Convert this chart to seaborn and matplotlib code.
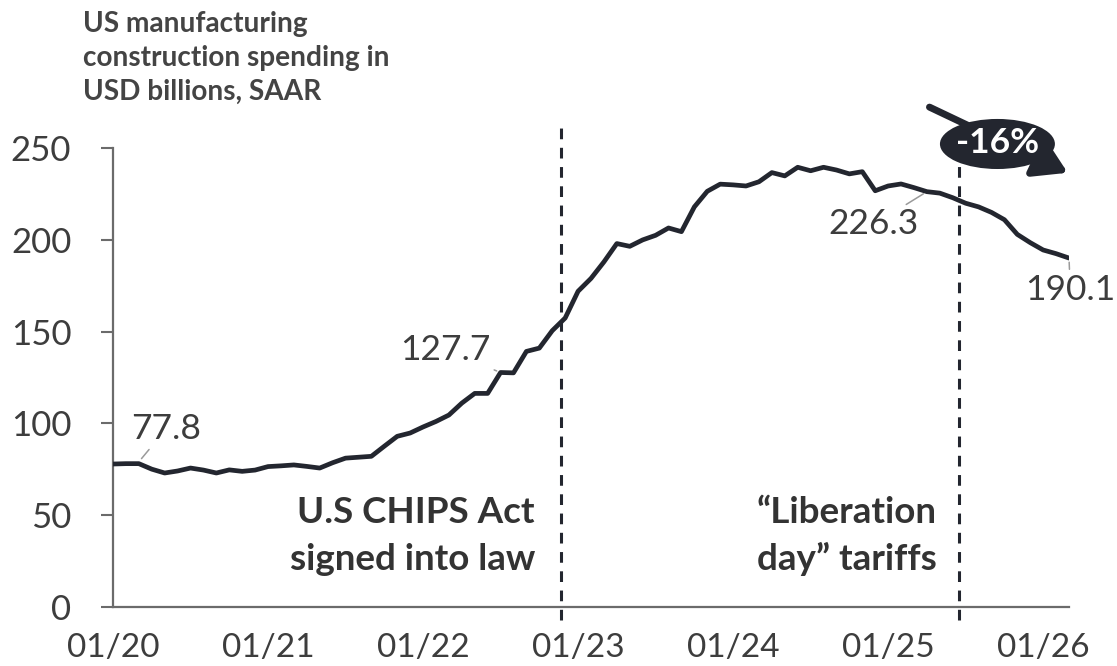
import matplotlib
matplotlib.use("Agg")
import matplotlib.pyplot as plt
from matplotlib.patches import Ellipse
import numpy as np
import pandas as pd
import seaborn as sns

# ---------------- data ----------------
# monthly index: 0 = Jan 2020 ... 74 = Mar 2026
spending = [
    77.8, 78.0, 78.0, 75.0, 72.9, 74.0, 75.6, 74.5, 72.9, 74.6,
    73.8, 74.5, 76.4, 76.8, 77.3, 76.5, 75.6, 78.5, 81.0, 81.5,
    82.0, 87.5, 92.9, 94.7, 98.0, 101.0, 104.5, 111.0, 116.3, 116.3,
    127.7, 127.5, 139.2, 141.0, 150.5, 157.4, 172.0, 179.0, 188.0, 198.0,
    196.5, 200.0, 202.5, 206.5, 204.5, 218.0, 226.5, 230.4, 230.0, 229.4,
    231.7, 236.7, 234.9, 239.6, 237.7, 239.6, 238.1, 236.0, 237.2, 226.8,
    229.4, 230.5, 228.5, 226.3, 225.5, 223.0, 220.0, 218.0, 215.0, 211.0,
    203.0, 198.5, 194.5, 192.5, 190.1,
]
month_idx = list(range(len(spending)))

tick_labels = ["01/20", "01/21", "01/22", "01/23", "01/24", "01/25", "01/26"]
tick_months = [0, 12, 24, 36, 48, 60, 72]
y_ticks = [0, 50, 100, 150, 200, 250]

event_lines = [["U.S CHIPS Act", "signed into law"],
               ["\u201cLiberation", "day\u201d tariffs"]]
event_x = [34.67, 65.48]

labelled_idx = [0, 30, 63, 74]
change_text = "-16%"
title_lines = ["US manufacturing", "construction spending in", "USD billions, SAAR"]

# ---------------- style ----------------
sns.set_theme(style="white")
plt.rcParams["font.family"] = ["Lato", "DejaVu Sans"]

LINE = "#23262f"
TXT = "#3d3d3d"
BOLD = "#333333"
SPINE = "#6b6b6b"

W, H = 1117, 666
fig = plt.figure(figsize=(W / 100, H / 100), dpi=100)
ax_left, ax_right = 113, 1069
ax_bottom, ax_top = 606.7, 606.7 - 270 * 1.834
ax = fig.add_axes([ax_left / W, (H - ax_bottom) / H,
                   (ax_right - ax_left) / W, (ax_bottom - ax_top) / H])

df = pd.DataFrame({"month": month_idx, "value": spending})
sns.lineplot(data=df, x="month", y="value", ax=ax, color=LINE, linewidth=3.4, zorder=4)

ax.set_xlim(0, len(spending) - 1)
ax.set_ylim(0, 270)
for s in ["top", "right"]:
    ax.spines[s].set_visible(False)
ax.spines["left"].set_bounds(0, 250)
for s in ["left", "bottom"]:
    ax.spines[s].set_color(SPINE)
    ax.spines[s].set_linewidth(1.6)

ax.set_yticks(y_ticks)
ax.set_xticks(tick_months)
ax.set_xticklabels(tick_labels)
ax.tick_params(axis="y", length=9, width=1.5, color=SPINE, pad=21,
               labelsize=25, labelcolor=TXT, direction="out", left=True)
ax.tick_params(axis="x", length=0, pad=19, labelsize=24, labelcolor=TXT)
ax.set_xlabel("")
ax.set_ylabel("")
ax.grid(False)

# event dashed lines
for xv in event_x:
    ax.plot([xv, xv], [-7, 261], color=LINE, lw=2.2, ls=(0, (3.5, 2.8)),
            clip_on=False, zorder=3)

# event texts (right aligned just left of each dashed line)
text_right = [32.66, 63.78]
for xr, lines in zip(text_right, event_lines):
    ax.text(xr, 45.6, lines[0], ha="right", va="baseline",
            fontsize=26.5, fontweight="bold", color=BOLD)
    ax.text(xr, 20.0, lines[1], ha="right", va="baseline",
            fontsize=26.5, fontweight="bold", color=BOLD)

# value labels
lead = dict(arrowstyle="-", color="#9a9a9a", lw=1.1, shrinkA=1, shrinkB=3)
i0, i1, i2, i3 = labelled_idx
vfs = 25.5
ax.annotate(f"{spending[i0]:.1f}", xy=(2.0, spending[2] + 1), xytext=(4.1, 96.8),
            ha="center", va="center", fontsize=vfs, color=TXT, arrowprops=lead,
            annotation_clip=False)
ax.annotate(f"{spending[i1]:.1f}", xy=(i1, spending[i1]), xytext=(25.7, 139.9),
            ha="center", va="center", fontsize=vfs, color=TXT, arrowprops=lead,
            annotation_clip=False)
ax.annotate(f"{spending[i2]:.1f}", xy=(i2, spending[i2]), xytext=(58.9, 208.4),
            ha="center", va="center", fontsize=vfs, color=TXT, arrowprops=lead,
            annotation_clip=False)
ax.annotate(f"{spending[i3]:.1f}", xy=(i3, spending[i3]), xytext=(74.1, 172.7),
            ha="center", va="center", fontsize=vfs, color=TXT, arrowprops=lead,
            annotation_clip=False)

# change arrow with bubble
ax.annotate("", xy=(73.9, 236.6), xytext=(63.2, 272.4),
            arrowprops=dict(arrowstyle="-|>,head_length=0.9,head_width=0.55",
                            lw=5, color=LINE, shrinkA=0, shrinkB=0,
                            mutation_scale=22),
            annotation_clip=False, zorder=5)
bubble = Ellipse((68.46, 252.3), width=8.9, height=27.3, facecolor=LINE,
                 edgecolor="none", clip_on=False, zorder=6)
ax.add_patch(bubble)
ax.text(68.46, 253.0, change_text, ha="center", va="center", fontsize=25.5,
        fontweight="bold", color="white", zorder=7)

# title
for k, line in enumerate(title_lines):
    fig.text(83 / W, 1 - (32 + 34 * k) / H, line, ha="left", va="baseline",
             fontsize=20.2, fontweight="bold", color="#444444")

fig.savefig("out.png", dpi=100)
